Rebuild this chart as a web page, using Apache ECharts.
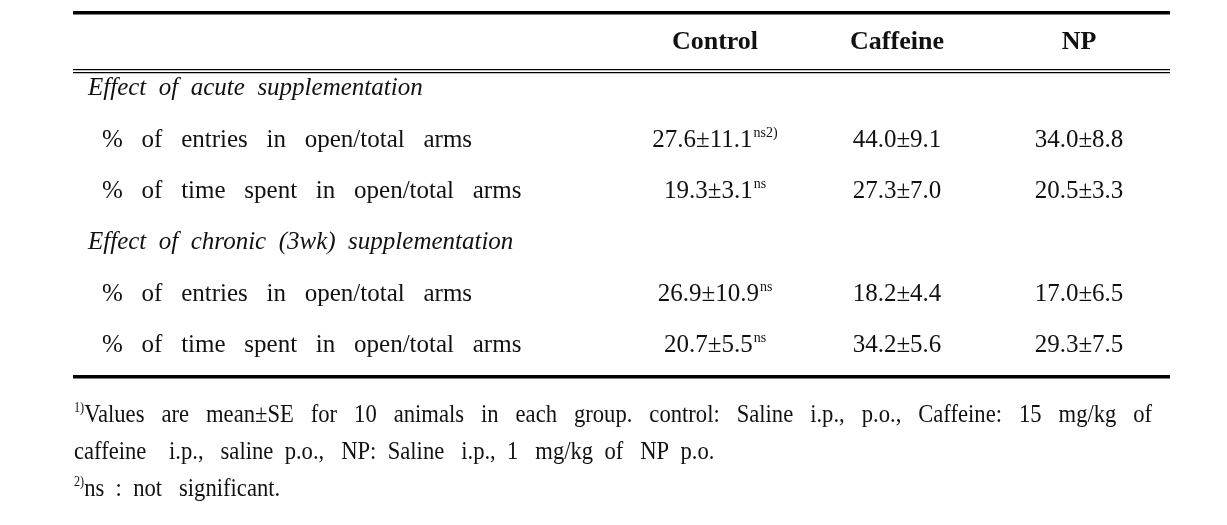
<!DOCTYPE html>
<html>
<head>
<meta charset="utf-8">
<script src="https://cdn.jsdelivr.net/npm/echarts@6/dist/echarts.min.js"></script>
<style>
  html, body { margin: 0; padding: 0; background: #fff; }
  #main { width: 1227px; height: 525px; }
</style>
</head>
<body>
<div id="main"></div>
<script>
// table data
const columns = ['Control', 'Caffeine', 'NP'];
const rowLabels = [
  'Effect of acute supplementation',
  '% of entries in open/total arms',
  '% of time spent in open/total arms',
  'Effect of chronic (3wk) supplementation',
  '% of entries in open/total arms',
  '% of time spent in open/total arms'
];
const sectionRows = [0, 3];
const dataRows = [1, 2, 4, 5];
const controlMean = [27.6, 19.3, 26.9, 20.7];
const controlSE = [11.1, 3.1, 10.9, 5.5];
const controlNote = ['ns2)', 'ns', 'ns', 'ns'];
const caffeineMean = [44.0, 27.3, 18.2, 34.2];
const caffeineSE = [9.1, 7.0, 4.4, 5.6];
const npMean = [34.0, 20.5, 17.0, 29.3];
const npSE = [8.8, 3.3, 6.5, 7.5];

const serif = '"Liberation Serif", "Times New Roman", serif';
const ink = '#111';

function cells(col, means, ses, notes) {
  return dataRows.map(function (r, i) {
    return { value: [col, r], mean: means[i], se: ses[i], note: notes ? notes[i] : '' };
  });
}

function cellSeries(col, means, ses, notes) {
  return {
    type: 'scatter',
    symbolSize: 0,
    silent: true,
    itemStyle: { opacity: 1 },
    data: cells(col, means, ses, notes),
    label: {
      show: true,
      position: 'inside',
      color: ink,
      opacity: 1,
      textBorderWidth: 0,
      textBorderColor: 'transparent',
      formatter: function (p) {
        let s = '{v|' + p.data.mean.toFixed(1) + '±' + p.data.se.toFixed(1) + '}';
        if (p.data.note) s += '{sup|' + p.data.note + '}';
        return s;
      },
      rich: {
        v: { fontFamily: serif, fontSize: 25, color: ink, lineHeight: 28 },
        sup: { fontFamily: serif, fontSize: 14, color: ink, lineHeight: 16, verticalAlign: 'top', padding: [0, 0, 0, 1] }
      }
    }
  };
}

const chart = echarts.init(document.getElementById('main'));
const gridLeft = 624;

chart.setOption({
  backgroundColor: '#fff',
  animation: false,
  grid: { left: gridLeft, width: 546, top: 63, height: 308 },
  xAxis: {
    type: 'category',
    position: 'top',
    data: columns,
    axisLine: { show: false },
    axisTick: { show: false },
    splitLine: { show: false },
    axisLabel: {
      margin: 21,
      verticalAlign: 'middle',
      fontFamily: serif,
      fontWeight: 'bold',
      fontSize: 26,
      color: ink
    }
  },
  yAxis: {
    type: 'category',
    inverse: true,
    data: rowLabels,
    axisLine: { show: false },
    axisTick: { show: false },
    splitLine: { show: false },
    axisLabel: {
      align: 'left',
      margin: gridLeft - 88,
      formatter: function (val, idx) {
        const words = val.split(' ');
        if (sectionRows.indexOf(idx) >= 0) return '{sec|' + words.join('  ') + '}';
        return '{row|' + words.join('   ') + '}';
      },
      rich: {
        sec: { fontFamily: serif, fontStyle: 'italic', fontSize: 25, color: ink },
        row: { fontFamily: serif, fontSize: 25, color: ink, padding: [0, 0, 0, 14] }
      }
    }
  },
  series: [
    cellSeries(0, controlMean, controlSE, controlNote),
    cellSeries(1, caffeineMean, caffeineSE),
    cellSeries(2, npMean, npSE)
  ],
  graphic: [
    // table rules
    { type: 'rect', shape: { x: 73, y: 11, width: 1097, height: 3.5 }, style: { fill: '#000' } },
    { type: 'rect', shape: { x: 73, y: 69, width: 1097, height: 1.2 }, style: { fill: '#000' } },
    { type: 'rect', shape: { x: 73, y: 72, width: 1097, height: 1.2 }, style: { fill: '#000' } },
    { type: 'rect', shape: { x: 73, y: 375, width: 1097, height: 3.5 }, style: { fill: '#000' } },
    // footnotes
    {
      type: 'text', x: 74, y: 415, scaleX: 0.87,
      style: {
        text: '{s|1)}{t|Values   are   mean±SE   for   10   animals   in   each   group.   control:   Saline   i.p.,   p.o.,   Caffeine:   15   mg/kg   of}',
        verticalAlign: 'middle',
        rich: {
          s: { fontFamily: serif, fontSize: 14, fill: ink, verticalAlign: 'top' },
          t: { fontFamily: serif, fontSize: 26, fill: ink, lineHeight: 28 }
        }
      }
    },
    {
      type: 'text', x: 74, y: 452, scaleX: 0.87,
      style: {
        text: 'caffeine    i.p.,   saline  p.o.,   NP:  Saline   i.p.,  1   mg/kg  of   NP  p.o.',
        verticalAlign: 'middle',
        fontFamily: serif, fontSize: 26, fill: ink
      }
    },
    {
      type: 'text', x: 74, y: 489, scaleX: 0.87,
      style: {
        text: '{s|2)}{t|ns  :  not   significant.}',
        verticalAlign: 'middle',
        rich: {
          s: { fontFamily: serif, fontSize: 14, fill: ink, verticalAlign: 'top' },
          t: { fontFamily: serif, fontSize: 26, fill: ink, lineHeight: 28 }
        }
      }
    }
  ]
});
</script>
</body>
</html>
